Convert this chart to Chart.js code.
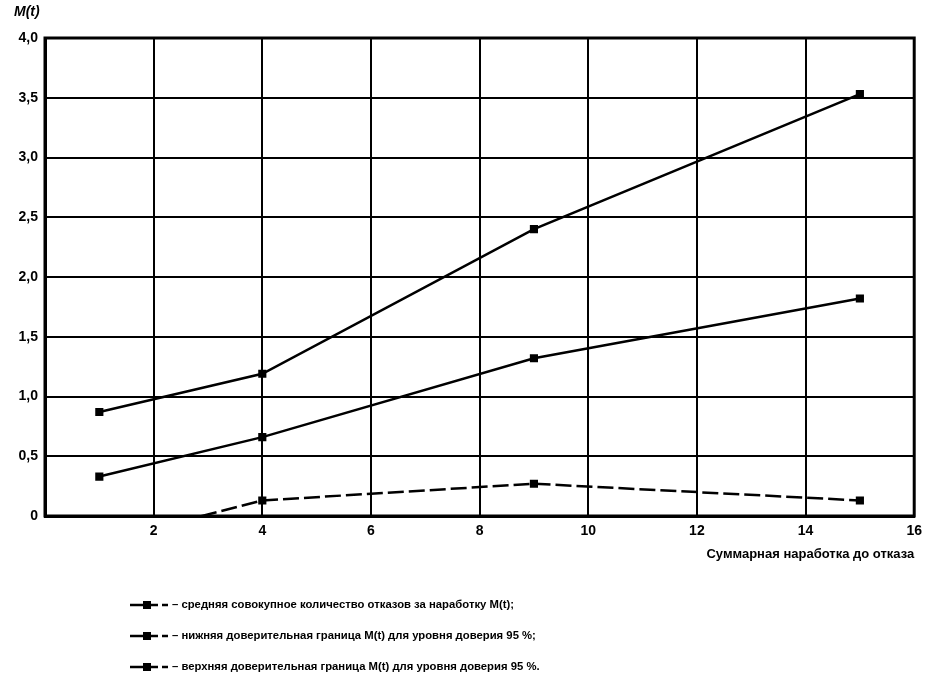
<!DOCTYPE html>
<html>
<head>
<meta charset="utf-8">
<script src="https://cdn.jsdelivr.net/npm/chart.js@4.4.0/dist/chart.umd.min.js"></script>
<style>
  html, body { margin: 0; padding: 0; background: #fff; }
  #wrap { width: 929px; height: 676px; position: relative; }
</style>
</head>
<body>
<div id="wrap"><canvas id="chart"></canvas></div>
<script>
const runTime = [1, 4, 9, 15];
const meanValues = [0.33, 0.66, 1.32, 1.82];
const lowerValues = [-0.22, 0.13, 0.27, 0.13];
const upperValues = [0.87, 1.19, 2.40, 3.53];
const seriesNames = [
    '– средняя совокупное количество отказов за наработку M(t);',
    '– нижняя доверительная граница M(t) для уровня доверия 95 %;',
    '– верхняя доверительная граница M(t) для уровня доверия 95 %.'
];
const yTitle = 'M(t)';
const xTitle = 'Суммарная наработка до отказа';

const FONT = '"Liberation Sans", Arial, sans-serif';

function points(values) {
    return runTime.map((t, i) => ({ x: t, y: values[i] }));
}

function series(label, values, dash) {
    return {
        label: label,
        data: points(values),
        borderColor: '#000',
        backgroundColor: '#000',
        borderWidth: 2.5,
        borderDash: dash,
        pointStyle: 'rect',
        pointRadius: 4,
        pointHoverRadius: 4,
        tension: 0
    };
}

// frame, M(t) label and the stacked legend under the plot
const extras = {
    id: 'extras',
    afterDraw(chart) {
        const ctx = chart.ctx;
        const a = chart.chartArea;
        ctx.save();
        ctx.strokeStyle = '#000';
        ctx.lineWidth = 3;
        ctx.strokeRect(a.left, a.top, a.right - a.left, a.bottom - a.top);

        ctx.fillStyle = '#000';
        ctx.font = 'italic bold 14px ' + FONT;
        ctx.textBaseline = 'middle';
        ctx.fillText(yTitle, 14, 12);

        ctx.font = 'bold 11.3px ' + FONT;
        chart.data.datasets.forEach((ds, i) => {
            const y = 605 + i * 31;
            ctx.lineWidth = 2.5;
            ctx.setLineDash([]);
            ctx.beginPath();
            ctx.moveTo(130, y);
            ctx.lineTo(158, y);
            ctx.stroke();
            ctx.fillRect(143, y - 4, 8, 8);
            ctx.beginPath();
            ctx.moveTo(162, y);
            ctx.lineTo(168, y);
            ctx.stroke();
            ctx.fillText(ds.label, 172, y);
        });
        ctx.restore();
    }
};

new Chart(document.getElementById('chart'), {
    type: 'line',
    data: {
        datasets: [
            series(seriesNames[0], meanValues, []),
            series(seriesNames[1], lowerValues, [16, 5]),
            series(seriesNames[2], upperValues, [])
        ]
    },
    options: {
        responsive: true,
        maintainAspectRatio: false,
        animation: false,
        layout: { padding: { top: 38, right: 12, bottom: 110, left: 0 } },
        plugins: {
            legend: { display: false },
            tooltip: { enabled: false }
        },
        scales: {
            x: {
                type: 'linear',
                min: 0,
                max: 16,
                afterFit: (s) => { s.height = 50; },
                grid: { color: '#000', lineWidth: 2, drawTicks: false },
                border: { color: '#000', width: 3 },
                ticks: {
                    stepSize: 2,
                    padding: 7,
                    color: '#000',
                    font: { family: FONT, size: 14, weight: 'bold' },
                    callback: (v) => v === 0 ? '' : v
                },
                title: {
                    display: true,
                    text: xTitle,
                    align: 'end',
                    color: '#000',
                    font: { family: FONT, size: 13, weight: 'bold' },
                    padding: { top: 2 }
                }
            },
            y: {
                min: 0,
                max: 4,
                afterFit: (s) => { s.width = 45; },
                grid: { color: '#000', lineWidth: 2, drawTicks: false },
                border: { color: '#000', width: 3 },
                ticks: {
                    stepSize: 0.5,
                    padding: 7,
                    color: '#000',
                    font: { family: FONT, size: 14, weight: 'bold' },
                    callback: (v) => v === 0 ? '0' : v.toFixed(1).replace('.', ',')
                }
            }
        }
    },
    plugins: [extras]
});
</script>
</body>
</html>
